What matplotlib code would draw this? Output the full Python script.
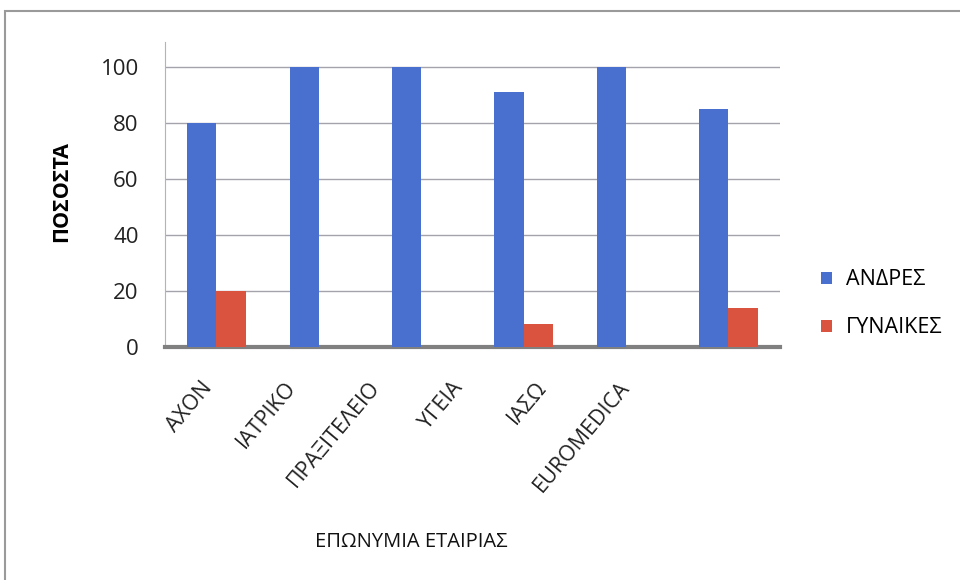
import matplotlib.pyplot as plt
import numpy as np
from matplotlib.patches import Rectangle

plt.rcParams['font.family'] = ['Open Sans', 'DejaVu Sans']

etairies = ['ΑΧΟΝ', 'ΙΑΤΡΙΚΟ', 'ΠΡΑΞΙΤΕΛΕΙΟ', 'ΥΓΕΙΑ', 'ΙΑΣΩ', 'EUROMEDICA']
andres = [80, 100, 100, 91, 100, 85]
gynaikes = [20, 0, 0, 8, 0, 14]

fig = plt.figure(figsize=(9.6, 5.8), dpi=100)
ax = fig.add_axes([0.172, 0.402, 0.64, 0.526])

# frame round the chart (open at the right and bottom, like the scan)
fig.patches.append(Rectangle((0.005, -0.1), 1.2, 1.081, transform=fig.transFigure,
                             fill=False, edgecolor='#9a9a9a', linewidth=1.5))

x = np.arange(len(etairies))
w = 0.285
ax.bar(x - w/2, andres, w, color='#4A70CF', label='ΑΝΔΡΕΣ', zorder=3)
ax.bar(x + w/2, gynaikes, w, color='#D9533F', label='ΓΥΝΑΙΚΕΣ', zorder=3)

ax.set_xlim(-0.5, len(etairies) - 0.5)
ax.set_ylim(0, 109)
ax.set_yticks(range(0, 101, 20))
ax.yaxis.grid(True, color='#a4a2ab', linewidth=1)
ax.set_axisbelow(True)

for s in ['top', 'right']:
    ax.spines[s].set_visible(False)
ax.spines['left'].set_color('#b4b2bc')
ax.spines['bottom'].set_color('#808080')
ax.spines['bottom'].set_linewidth(3)
ax.tick_params(axis='both', length=0, colors='#222222')
ax.tick_params(axis='y', labelsize=16, pad=19)

# the category labels in the original drift left of their bars
ax.set_xticks(x * 0.815 - 0.15)
ax.set_xticklabels(etairies, rotation=50, ha='right', rotation_mode='anchor',
                   fontsize=15.5)
ax.tick_params(axis='x', pad=22)

ax.set_ylabel('ΠΟΣΟΣΤΑ', fontsize=15.5, fontweight='bold')
ax.yaxis.set_label_coords(-0.152, 0.508)
ax.set_xlabel('ΕΠΩΝΥΜΙΑ ΕΤΑΙΡΙΑΣ', fontsize=14.5, color='#111111')
ax.xaxis.set_label_coords(0.40, -0.607)

ax.legend(loc='center left', bbox_to_anchor=(1.068, 0.141), frameon=False,
          fontsize=15.5, handlelength=0.5, handleheight=0.5, labelspacing=1.25,
          handletextpad=0.65, borderpad=0, borderaxespad=0)

fig.savefig('out.png', dpi=100, facecolor='white')
